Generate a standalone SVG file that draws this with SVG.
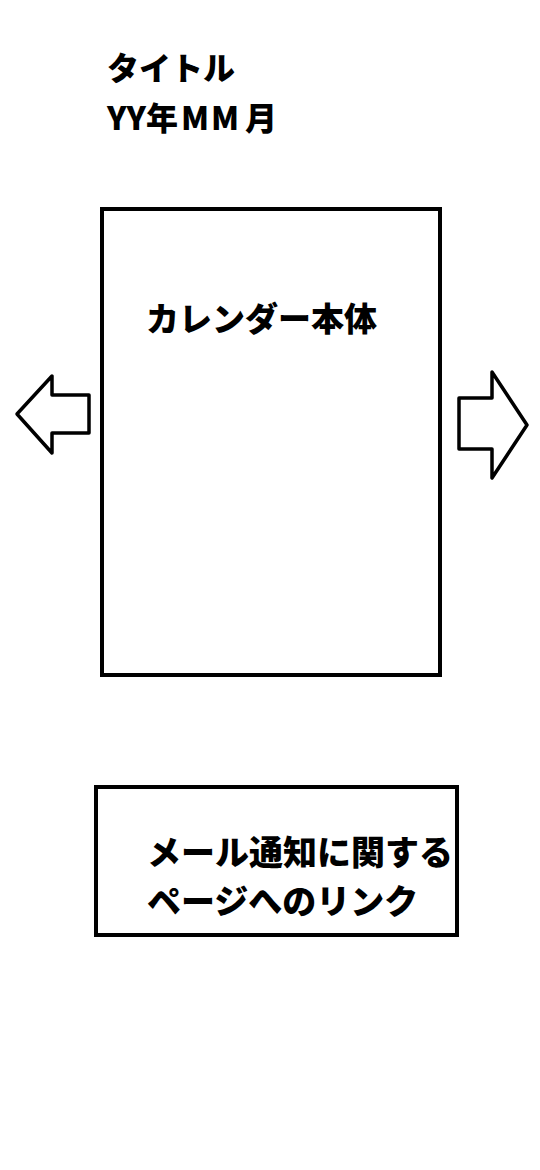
<svg xmlns="http://www.w3.org/2000/svg" width="540" height="1170" viewBox="0 0 540 1170">
<style>
.t{font-family:"Noto Sans CJK JP","Noto Sans",sans-serif;font-weight:900;fill:#000}
.box{fill:#fff;stroke:#000;stroke-width:4}
.arr{fill:#fff;stroke:#000;stroke-width:3.5;stroke-linejoin:round}
</style>
<rect width="540" height="1170" fill="#fff"/>
<g id="title">
<text class="t" x="107" y="80" font-size="32">タイトル</text>
<text class="t" x="107" y="130" font-size="32">YY年<tspan x="181">M</tspan><tspan x="211">M</tspan><tspan x="245">月</tspan></text>
</g>
<g id="calendar">
<rect class="box" x="102" y="209" width="338" height="466"/>
<text class="t" x="146" y="331" font-size="33">カレンダー本体</text>
</g>
<g id="connectors">
<polygon id="prev" class="arr" points="17,414 52,376 52,395 89,395 89,433 52,433 52,453"/>
<polygon id="next" class="arr" points="459,398 492,398 492,372 527,425 492,478 492,449 459,449"/>
</g>
<g id="mail-link">
<rect class="box" x="96" y="787" width="361" height="148"/>
<text class="t" x="147" y="865" font-size="34">メール通知に関する</text>
<text class="t" x="147" y="914" font-size="34">ページへのリンク</text>
</g>
</svg>
